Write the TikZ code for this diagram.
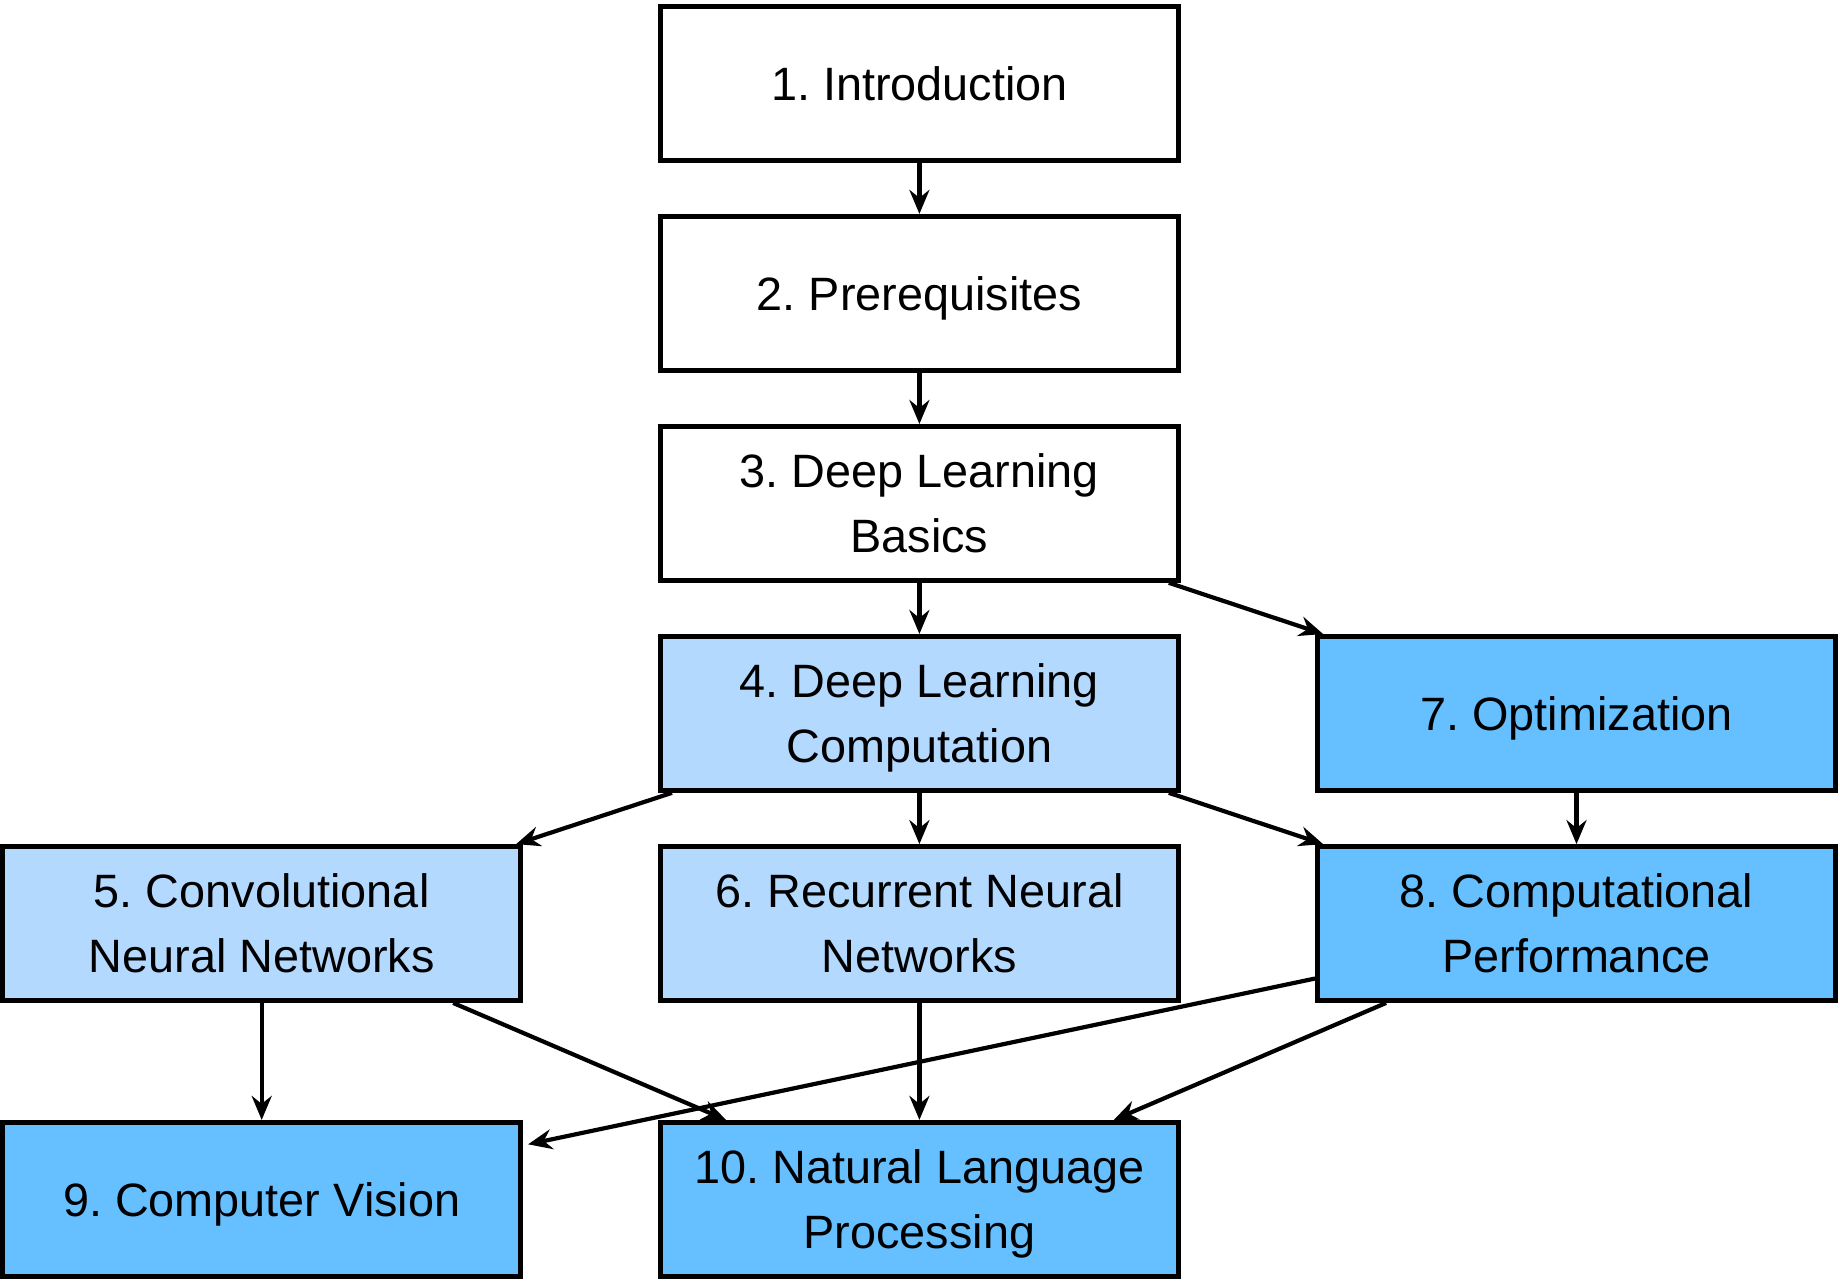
\documentclass[tikz,border=0pt]{standalone}
\usepackage{fontspec}
\setmainfont{Liberation Sans}
\frenchspacing
\usetikzlibrary{calc,arrows.meta}
\definecolor{lightblue}{RGB}{179,217,255}
\definecolor{darkblue}{RGB}{102,191,255}
\begin{document}
\begin{tikzpicture}[x=0.5pt,y=-0.5pt,
  box/.style={draw=black, line width=2.4pt, minimum width=259pt, minimum height=77pt,
    inner sep=0pt, align=center, font=\fontsize{23.4}{32.5}\selectfont, text depth=-2pt},
  plain/.style={box, fill=white},
  light/.style={box, fill=lightblue},
  dark/.style={box, fill=darkblue},
  conn/.style={line width=2.1pt, -{Stealth[length=12pt,width=10pt,inset=4pt]}}]
\useasboundingbox (0,0) rectangle (1840,1280);
\node[plain] (n1) at (919.4,83.3) {1. Introduction};
\node[plain] (n2) at (919.4,293.3) {2. Prerequisites};
\node[plain] (n3) at (919.4,503.4) {3. Deep Learning\\Basics};
\node[light] (n4) at (919.4,713.4) {4. Deep Learning\\Computation};
\node[dark] (n7) at (1576.5,713.4) {7. Optimization};
\node[light] (n5) at (261.7,923.5) {5. Convolutional\\Neural Networks};
\node[light] (n6) at (919.4,923.5) {6. Recurrent Neural\\Networks};
\node[dark] (n8) at (1576.5,923.5) {8. Computational\\Performance};
\node[dark] (n9) at (261.7,1199.3) {9. Computer Vision};
\node[dark] (n10) at (919.4,1199.3) {10. Natural Language\\Processing};
\draw[conn] (n1) -- (n2);
\draw[conn] (n2) -- (n3);
\draw[conn] (n3) -- (n4);
\draw[conn] ($(n3.south east)+(-12,0)$) -- ($(n7.north west)+(8,0)$);
\draw[conn] ($(n4.south west)+(14,0)$) -- ($(n5.north east)+(-7,0)$);
\draw[conn] (n4) -- (n6);
\draw[conn] ($(n4.south east)+(-12,0)$) -- ($(n8.north west)+(8,0)$);
\draw[conn] (n7) -- (n8);
\draw[conn] (n5) -- (n9);
\draw[conn] ($(n5.south east)+(-70,0)$) -- ($(n10.north west)+(68,0)$);
\draw[conn] (n6) -- (n10);
\draw[conn] ($(n8.west)+(0,55)$) -- ($(n9.east)+(5,-55)$);
\draw[conn] ($(n8.south west)+(71,0)$) -- ($(n10.north east)+(-67,0)$);
\end{tikzpicture}
\end{document}
